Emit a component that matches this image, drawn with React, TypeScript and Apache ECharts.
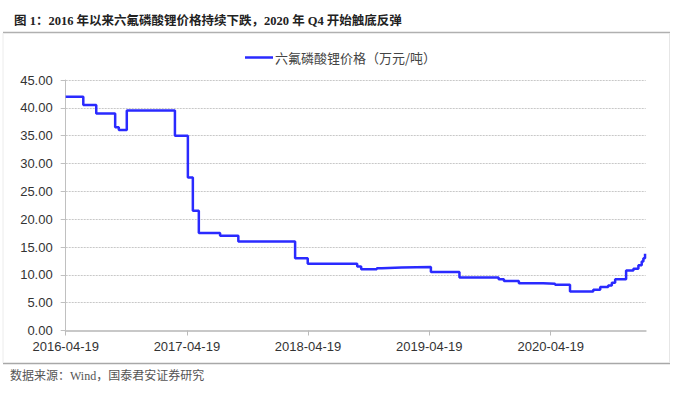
import React, { useEffect, useRef } from "react";
import * as echarts from "echarts";

const TITLE = "图 1：2016 年以来六氟磷酸锂价格持续下跌，2020 年 Q4 开始触底反弹";
const SOURCE = "数据来源：Wind，国泰君安证券研究";
const SERIES_NAME = "六氟磷酸锂价格（万元/吨）";

// change points (price holds from this date until the next)
const dates = [
  "2016-04-19", "2016-06-11", "2016-07-20", "2016-09-15", "2016-09-26", "2016-10-20",
  "2017-03-14", "2017-04-22", "2017-05-07", "2017-05-25", "2017-07-28", "2017-09-21",
  "2018-03-11", "2018-04-18", "2018-09-14", "2018-09-26", "2018-11-12", "2018-11-27",
  "2019-01-26", "2019-04-24", "2019-07-19", "2019-11-14", "2019-11-30", "2020-01-14",
  "2020-03-27", "2020-05-02", "2020-06-16", "2020-08-25", "2020-09-15", "2020-10-09",
  "2020-10-20", "2020-10-30", "2020-12-02", "2020-12-24", "2021-01-08", "2021-01-18",
  "2021-01-23", "2021-01-28", "2021-01-30",
];
const prices = [
  42.0, 40.5, 39.0, 36.5, 36.0, 39.5,
  35.0, 27.5, 21.5, 17.5, 17.0, 16.0,
  13.0, 12.0, 11.5, 11.0, 11.2, 11.3,
  11.4, 10.5, 9.5, 9.2, 8.9, 8.5,
  8.4, 8.2, 7.0, 7.3, 7.8, 8.1,
  8.6, 9.2, 10.8, 11.1, 11.7, 12.4,
  13.0, 13.8, 13.8,
];
const xTickDates = ["2016-04-19", "2017-04-19", "2018-04-19", "2019-04-19", "2020-04-19"];
const yMin = 0;
const yMax = 45;
const yStep = 5;

const ts = (d: string) => Date.parse(d + "T00:00:00Z");

export default function App() {
  const ref = useRef<HTMLDivElement>(null);
  useEffect(() => {
    if (!ref.current) return;
    const chart = echarts.init(ref.current, undefined, { renderer: "svg" });
    const data = dates.map((d, i) => [ts(d), prices[i]]);
    const tickVals = xTickDates.map(ts);
    chart.setOption({
      animation: false,
      backgroundColor: "#ffffff",
      title: {
        text: TITLE,
        left: 9,
        top: 10,
        textStyle: {
          fontSize: 12.5,
          fontWeight: "bold",
          color: "#222",
          fontFamily: "'Liberation Serif', 'Noto Sans CJK SC', serif",
        },
      },
      legend: {
        left: 240,
        top: 46,
        itemWidth: 28,
        itemHeight: 12,
        itemGap: 4,
        icon: "path://M0,0 L28,0 L28,2.5 L0,2.5 Z",
        textStyle: {
          fontSize: 13,
          color: "#444",
          fontFamily: "'Noto Sans CJK SC', sans-serif",
          padding: [0, 0, 0, -3],
        },
        data: [SERIES_NAME],
      },
      grid: { left: 65.7, right: 30.3, top: 80, bottom: 62.5, containLabel: false },
      xAxis: {
        type: "value",
        min: ts(dates[0]),
        max: ts(dates[dates.length - 1]),
        axisLine: { show: true, lineStyle: { color: "#c8c8c8", width: 2 } },
        axisTick: {
          show: true,
          length: 5,
          customValues: tickVals,
          lineStyle: { color: "#bbb" },
        },
        axisLabel: {
          customValues: tickVals,
          margin: 9,
          fontSize: 13,
          color: "#333",
          fontFamily: "'Liberation Sans', Arial, sans-serif",
          formatter: (v: number) => new Date(v).toISOString().slice(0, 10),
        },
        splitLine: { show: false },
      },
      yAxis: {
        type: "value",
        min: yMin,
        max: yMax,
        interval: yStep,
        axisLine: { show: true, lineStyle: { color: "#c0c0c0", width: 1 } },
        axisTick: { show: true, length: 5, lineStyle: { color: "#c0c0c0" } },
        axisLabel: {
          margin: 13,
          fontSize: 13,
          color: "#333",
          fontFamily: "'Liberation Sans', Arial, sans-serif",
          formatter: (v: number) => v.toFixed(2),
        },
        splitLine: { show: true, lineStyle: { color: "#c8c8c8", type: [2, 1], width: 1 } },
      },
      series: [
        {
          name: SERIES_NAME,
          type: "line",
          step: "end",
          symbol: "none",
          data,
          lineStyle: { color: "#2a2aff", width: 2.5 },
          itemStyle: { color: "#2a2aff" },
        },
      ],
      graphic: [
        { type: "line", shape: { x1: 3, y1: 32.5, x2: 670, y2: 32.5 }, style: { stroke: "#b0b0b0", lineWidth: 1.5 } },
        { type: "line", shape: { x1: 3, y1: 363.5, x2: 670, y2: 363.5 }, style: { stroke: "#a8a8a8", lineWidth: 1.5 } },
        { type: "line", shape: { x1: 3, y1: 33, x2: 3, y2: 363 }, style: { stroke: "#ececec", lineWidth: 1 } },
        { type: "line", shape: { x1: 669.5, y1: 33, x2: 669.5, y2: 363 }, style: { stroke: "#e6e6e6", lineWidth: 1 } },
        {
          type: "text",
          left: 10,
          top: 370,
          style: {
            text: SOURCE,
            fontSize: 12,
            fill: "#555",
            fontFamily: "'Liberation Serif', 'Noto Sans CJK SC', serif",
          },
        },
      ],
    });
    return () => chart.dispose();
  }, []);
  return (
    <div
      ref={ref}
      style={{ position: "fixed", left: 0, top: 0, width: 676, height: 393, background: "#fff" }}
    />
  );
}
